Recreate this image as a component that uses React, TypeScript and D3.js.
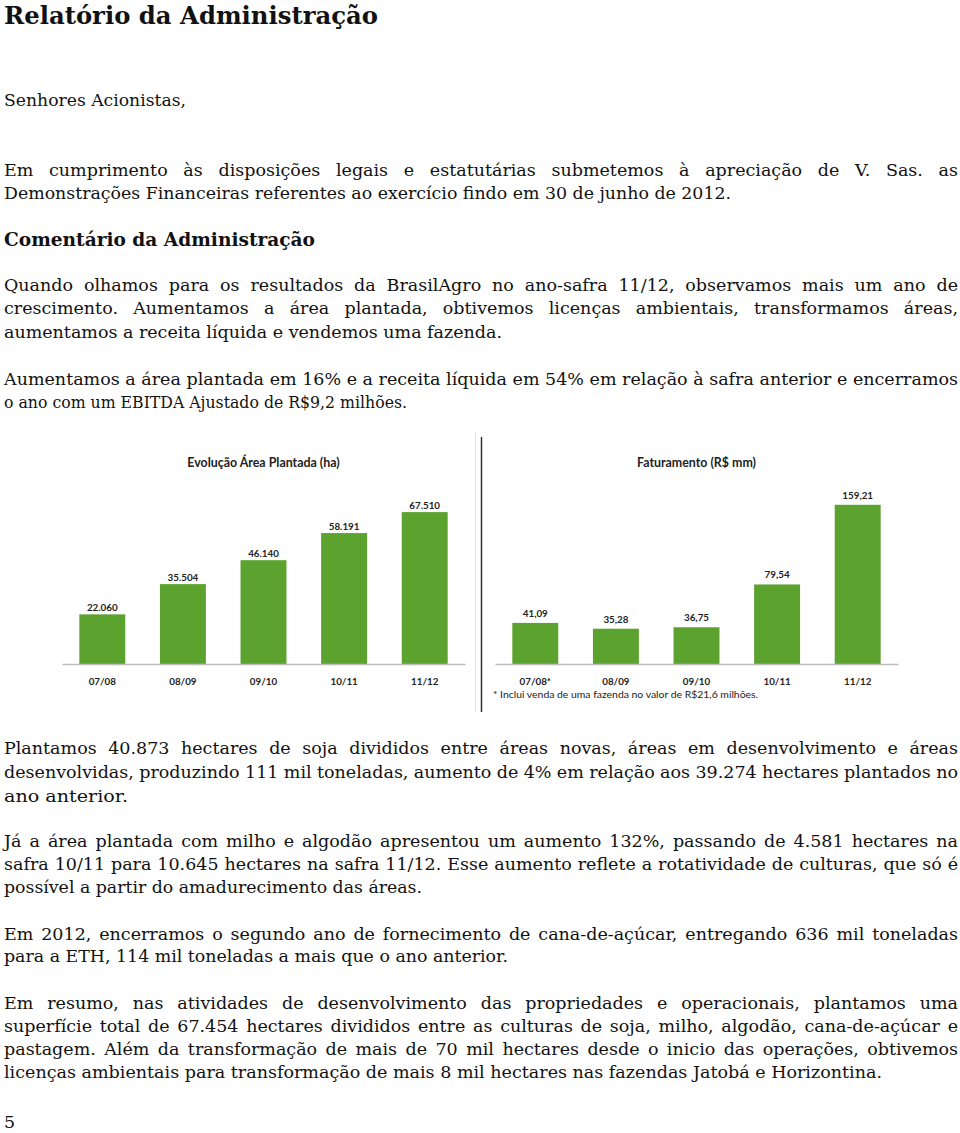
import { useEffect, useRef } from "react";
import * as d3 from "d3";

// chart data
const seasons = ["07/08", "08/09", "09/10", "10/11", "11/12"];
const revenueSeasons = ["07/08*", "08/09", "09/10", "10/11", "11/12"];
const plantedArea = [22060, 35504, 46140, 58191, 67510];
const revenue = [41.09, 35.28, 36.75, 79.54, 159.21];

const areaTitle = "Evolução Área Plantada (ha)";
const revenueTitle = "Faturamento (R$ mm)";
const revenueNote = "* Inclui venda de uma fazenda no valor de R$21,6 milhões.";

// page text, one entry per printed line
const pageLines = [
  { t: "Relatório da Administração", y: 24, end: 378, size: 24, bold: true },
  { t: "Senhores Acionistas,", y: 106, end: 186 },
  { t: "Em cumprimento às disposições legais e estatutárias submetemos à apreciação de V. Sas. as", y: 176, end: 958, j: true },
  { t: "Demonstrações Financeiras referentes ao exercício findo em 30 de junho de 2012.", y: 199, end: 731 },
  { t: "Comentário da Administração", y: 246, end: 315, size: 19, bold: true },
  { t: "Quando olhamos para os resultados da BrasilAgro no ano-safra 11/12, observamos mais um ano de", y: 291, end: 958, j: true },
  { t: "crescimento. Aumentamos a área plantada, obtivemos licenças ambientais, transformamos áreas,", y: 314, end: 958, j: true },
  { t: "aumentamos a receita líquida e vendemos uma fazenda.", y: 338, end: 502 },
  { t: "Aumentamos a área plantada em 16% e a receita líquida em 54% em relação à safra anterior e encerramos", y: 385, end: 958, j: true },
  { t: "o ano com um EBITDA Ajustado de R$9,2 milhões.", y: 408, end: 407 },
  { t: "Plantamos 40.873 hectares de soja divididos entre áreas novas, áreas em desenvolvimento e áreas", y: 754, end: 958, j: true },
  { t: "desenvolvidas, produzindo 111 mil toneladas, aumento de 4% em relação aos 39.274 hectares plantados no", y: 778, end: 958, j: true },
  { t: "ano anterior.", y: 802, end: 128 },
  { t: "Já a área plantada com milho e algodão apresentou um aumento 132%, passando de 4.581 hectares na", y: 847, end: 958, j: true },
  { t: "safra 10/11 para 10.645 hectares na safra 11/12. Esse aumento reflete a rotatividade de culturas, que só é", y: 870, end: 958, j: true },
  { t: "possível a partir do amadurecimento das áreas.", y: 893, end: 422 },
  { t: "Em 2012, encerramos o segundo ano de fornecimento de cana-de-açúcar, entregando 636 mil toneladas", y: 940, end: 958, j: true },
  { t: "para a ETH, 114 mil toneladas a mais que o ano anterior.", y: 962, end: 508 },
  { t: "Em resumo, nas atividades de desenvolvimento das propriedades e operacionais, plantamos uma", y: 1009, end: 958, j: true },
  { t: "superfície total de 67.454 hectares divididos entre as culturas de soja, milho, algodão, cana-de-açúcar e", y: 1032, end: 958, j: true },
  { t: "pastagem. Além da transformação de mais de 70 mil hectares desde o inicio das operações, obtivemos", y: 1055, end: 958, j: true },
  { t: "licenças ambientais para transformação de mais 8 mil hectares nas fazendas Jatobá e Horizontina.", y: 1078, end: 882 },
  { t: "5", y: 1128, end: 0 },
];

const serif = '"DejaVu Serif", serif';
const sans = "Lato, 'Open Sans', sans-serif";
const green = "#5ca22e";

const ptBR = d3.formatLocale({ decimal: ",", thousands: ".", grouping: [3], currency: ["R$", ""] });

export default function App() {
  const ref = useRef<SVGSVGElement>(null);

  useEffect(() => {
    const svg = d3.select(ref.current);
    svg.selectAll("*").remove();
    const X0 = 4;

    // text lines
    const measure = svg.append("text").attr("font-family", serif).attr("font-size", 17.5).attr("visibility", "hidden");
    const wordW = (w: string) => {
      measure.text(w);
      return (measure.node() as SVGTextElement).getComputedTextLength();
    };

    pageLines.forEach((line: any) => {
      const t = svg.append("text")
        .attr("y", line.y)
        .attr("font-family", serif)
        .attr("font-size", line.size || 17.5)
        .attr("font-weight", line.bold ? "bold" : "normal")
        .attr("fill", "#111");
      if (line.j) {
        const words = line.t.split(" ");
        const widths = words.map(wordW);
        const gap = (line.end - X0 - d3.sum(widths)) / (words.length - 1);
        if (gap > 2) {
          let x = X0;
          words.forEach((w: string, i: number) => {
            t.append("tspan").attr("x", x).text(w);
            x += widths[i] + gap;
          });
          return;
        }
      }
      t.attr("x", X0).text(line.t);
      if (line.end > 0) t.attr("textLength", line.end - X0).attr("lengthAdjust", "spacingAndGlyphs");
    });
    measure.remove();

    // bar charts
    const baseY = 664;
    const topY = 484;

    const drawChart = (
      cats: string[], vals: number[], maxVal: number, r: [number, number],
      title: string, fmt: (v: number) => string, lift: number
    ) => {
      const x = d3.scaleBand().domain(cats).range(r).paddingInner(0.43).paddingOuter(0.215);
      const y = d3.scaleLinear().domain([0, maxVal]).range([baseY, topY]);
      const g = svg.append("g");

      g.selectAll("rect.bar").data(vals).join("rect")
        .attr("class", "bar")
        .attr("x", (d, i) => x(cats[i])!)
        .attr("y", (d) => y(d))
        .attr("width", x.bandwidth())
        .attr("height", (d) => baseY - y(d))
        .attr("fill", green);

      g.selectAll("text.val").data(vals).join("text")
        .attr("class", "val")
        .attr("x", (d, i) => x(cats[i])! + x.bandwidth() / 2)
        .attr("y", (d) => y(d) - lift)
        .attr("text-anchor", "middle")
        .attr("font-family", sans)
        .attr("font-weight", "bold")
        .attr("font-size", 9.8)
        .attr("fill", "#222")
        .text((d) => fmt(d));

      const axis = g.append("g")
        .attr("transform", `translate(0,${baseY})`)
        .call(d3.axisBottom(x).tickSize(0).tickSizeOuter(0));
      axis.select(".domain").attr("stroke", "#bdbdbd").attr("stroke-width", 1.5);
      axis.selectAll(".tick text")
        .attr("y", 20.5)
        .attr("dy", 0)
        .attr("font-family", sans)
        .attr("font-weight", "bold")
        .attr("font-size", 9.8)
        .attr("fill", "#222");

      g.append("text")
        .attr("x", (r[0] + r[1]) / 2)
        .attr("y", 467)
        .attr("text-anchor", "middle")
        .attr("font-family", sans)
        .attr("font-weight", "bold")
        .attr("font-size", 12.4)
        .attr("fill", "#222")
        .text(title);
    };

    drawChart(seasons, plantedArea, 80000, [62, 465], areaTitle, ptBR.format(",.0f"), 3);
    drawChart(revenueSeasons, revenue, 180, [495, 898], revenueTitle, ptBR.format(",.2f"), 6);

    svg.append("text")
      .attr("x", 493)
      .attr("y", 698)
      .attr("font-family", sans)
      .attr("font-size", 8.5)
      .attr("fill", "#222")
      .attr("textLength", 265)
      .attr("lengthAdjust", "spacingAndGlyphs")
      .text(revenueNote);

    // frame lines between the two charts
    svg.append("line").attr("x1", 475.5).attr("x2", 475.5).attr("y1", 432).attr("y2", 712)
      .attr("stroke", "#e4e4e4").attr("stroke-width", 1);
    svg.append("line").attr("x1", 481.5).attr("x2", 481.5).attr("y1", 437).attr("y2", 712)
      .attr("stroke", "#333").attr("stroke-width", 1.5);
  }, []);

  return (
    <svg ref={ref} width={960} height={1133}
      style={{ position: "absolute", left: 0, top: 0, background: "#fff", display: "block" }} />
  );
}
